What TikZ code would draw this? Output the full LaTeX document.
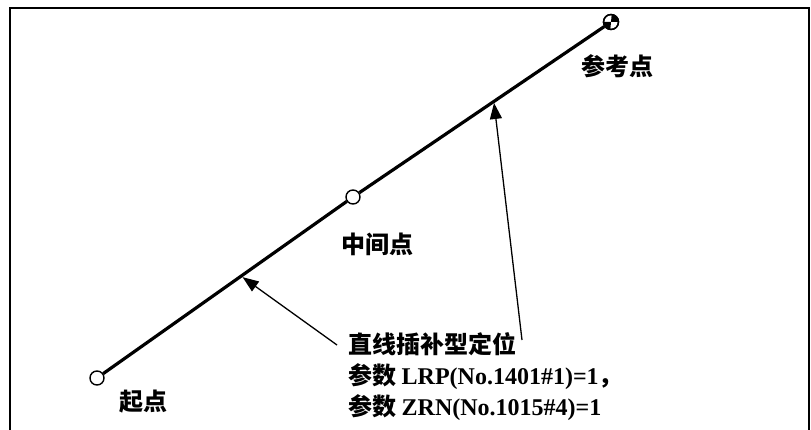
\documentclass[tikz,border=0pt]{standalone}
\usepackage{fontspec}
\setmainfont{Liberation Serif}
\newfontfamily\cjk{Noto Sans CJK SC}
\usetikzlibrary{arrows.meta}
\tikzset{
	hollowpt/.style={circle,draw=black,fill=white,minimum size=14pt,inner sep=0pt,line width=1.4pt},
	refpt/.style={circle,draw=black,fill=white,minimum size=15pt,inner sep=0pt,line width=1.4pt},
	trackline/.style={draw=black,line width=3.2pt},
	callout/.style={draw=black,line width=1.3pt,-{Triangle[length=16pt,width=12pt]}},
	framebox/.style={draw=black,line width=2pt},
	ptlabel/.style={font=\cjk\bfseries\fontsize{24}{31}\selectfont,inner sep=0pt}
}
\newcommand\latinpart[1]{{\rmfamily\bfseries\fontsize{24}{31}\selectfont #1}}
\begin{document}
\begin{tikzpicture}[x=1pt,y=-1pt]
				\useasboundingbox (0,0) rectangle (811,430);
				\draw[framebox] (10,431) -- (10,8) -- (809,8) -- (809,431);
				% points on the path
				\node[hollowpt] (s) at (97,378) {};
				\node[hollowpt] (m) at (353,197) {};
				\node[refpt] (r) at (611,22) {};
				\fill (r.center) -- (r.east) arc[start angle=0,end angle=90,radius=7.5pt] -- cycle;
				\fill (r.center) -- (r.west) arc[start angle=180,end angle=270,radius=7.5pt] -- cycle;
				\draw[trackline] (s) -- (m) -- (r);
				\node[refpt,fill=none] at (r) {};
				% labels
				\node[ptlabel] (lr) at (617,66) {参考点};
				\node[ptlabel] (lm) at (377,244) {中间点};
				\node[ptlabel] (ls) at (143,402) {起点};
				\node[ptlabel,anchor=north west,align=left] (note) at (348,332)
					{直线插补型定位\\参数 \latinpart{LRP(No.1401\#1)=1}，\\参数 \latinpart{ZRN(No.1015\#4)=1}};
				% callouts
				\path (s) -- (r) coordinate[pos=0.278] (t1) coordinate[pos=0.78] (t2);
				\coordinate (f1) at (337,345);
				\coordinate (f2) at (522,340);
				\draw[callout] (f1) -- (t1);
				\draw[callout] (f2) -- (t2);
			\end{tikzpicture}
\end{document}
